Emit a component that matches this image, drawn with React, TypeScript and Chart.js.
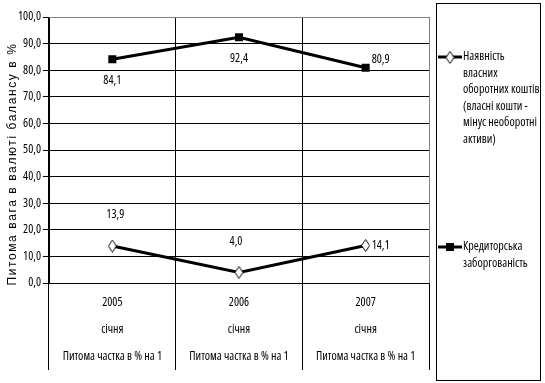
import React, { useEffect, useRef } from "react";
import { Chart, registerables } from "chart.js";

Chart.register(...registerables);

// ---------- data ----------
const categoryYears = ["2005", "2006", "2007"];
const categoryMonths = ["січня", "січня", "січня"];
const categoryPrefixes = ["Питома частка в % на 1", "Питома частка в % на 1", "Питома частка в % на 1"];

const ownCapitalValues = [13.9, 4.0, 14.1];
const payablesValues = [84.1, 92.4, 80.9];

const ownCapitalLegend = ["Наявність", "власних", "оборотних коштів", "(власні кошти -", "мінус необоротні", "активи)"];
const payablesLegend = ["Кредиторська", "заборгованість"];

const yAxisTitle = "Питома вага в валюті балансу в %";
const yMin = 0;
const yMax = 100;
const yStep = 10;

// ---------- styles ----------
const FAMILY = '"Open Sans", sans-serif';
const CANVAS_FONT = `condensed 12px ${FAMILY}`;
const fmt = (v: number) => v.toFixed(1).replace(".", ",");

function makeDiamond(): HTMLCanvasElement {
  const c = document.createElement("canvas");
  c.width = 9;
  c.height = 13;
  const g = c.getContext("2d")!;
  g.beginPath();
  g.moveTo(4.5, 0.5);
  g.lineTo(8.5, 6.5);
  g.lineTo(4.5, 12.5);
  g.lineTo(0.5, 6.5);
  g.closePath();
  g.fillStyle = "#fff";
  g.fill();
  g.lineWidth = 1;
  g.strokeStyle = "#000";
  g.stroke();
  return c;
}

// label placement per dataset, per point: [dx, dy, align]
const labelPlacement: Array<Array<[number, number, CanvasTextAlign]>> = [
  [[3, -31, "center"], [-3, -31, "center"], [6, 0, "left"]],
  [[0, 21, "center"], [0, 21, "center"], [6, -8, "left"]],
];

const valueLabelsPlugin = {
  id: "valueLabels",
  afterDatasetsDraw(chart: any) {
    const ctx = chart.ctx;
    ctx.save();
    ctx.font = CANVAS_FONT;
    ctx.fillStyle = "#000";
    ctx.textBaseline = "middle";
    chart.data.datasets.forEach((ds: any, di: number) => {
      const meta = chart.getDatasetMeta(di);
      meta.data.forEach((pt: any, i: number) => {
        const [dx, dy, align] = labelPlacement[di][i];
        ctx.textAlign = align;
        ctx.fillText(fmt(ds.data[i]), pt.x + dx, pt.y + dy);
      });
    });
    ctx.restore();
  },
};

const legendEntries = [ownCapitalLegend, payablesLegend];

const boxLegendPlugin = {
  id: "boxLegend",
  afterDraw(chart: any) {
    const ctx = chart.ctx;
    ctx.save();
    ctx.strokeStyle = "#000";
    ctx.lineWidth = 1;
    ctx.strokeRect(436.5, 3.5, 104, 377);
    const entryTops = [57, 247];
    ctx.font = CANVAS_FONT;
    ctx.fillStyle = "#000";
    ctx.textAlign = "left";
    ctx.textBaseline = "middle";
    chart.data.datasets.forEach((ds: any, di: number) => {
      const y = entryTops[di];
      ctx.beginPath();
      ctx.strokeStyle = "#000";
      ctx.lineWidth = 3;
      ctx.moveTo(438, y);
      ctx.lineTo(462, y);
      ctx.stroke();
      if (ds.pointStyle instanceof HTMLCanvasElement) {
        const img = ds.pointStyle;
        ctx.drawImage(img, 450 - img.width / 2, y - img.height / 2 + 0.5);
      } else {
        ctx.fillStyle = "#000";
        ctx.fillRect(446, y - 4, 8, 8);
      }
      ctx.fillStyle = "#000";
      legendEntries[di].forEach((line, li) => {
        ctx.fillText(line, 463, y + li * 16.5);
      });
    });
    ctx.restore();
  },
};

const yTitlePlugin = {
  id: "yTitle",
  afterDraw(chart: any) {
    const ctx = chart.ctx;
    ctx.save();
    ctx.translate(13, 164);
    ctx.rotate(-Math.PI / 2);
    ctx.font = `12px "Liberation Sans", Arial, sans-serif`;
    (ctx as any).letterSpacing = "1.6px";
    ctx.fillStyle = "#000";
    ctx.textAlign = "center";
    ctx.textBaseline = "middle";
    ctx.fillText(yAxisTitle, 0, 0);
    ctx.restore();
  },
};

const plotBorderPlugin = {
  id: "plotBorder",
  beforeDatasetsDraw(chart: any) {
    const { ctx, chartArea } = chart;
    ctx.save();
    ctx.strokeStyle = "#808080";
    ctx.lineWidth = 1;
    ctx.beginPath();
    ctx.moveTo(chartArea.left, chartArea.top + 0.5);
    ctx.lineTo(chartArea.right + 0.5, chartArea.top + 0.5);
    ctx.lineTo(chartArea.right + 0.5, chartArea.bottom);
    ctx.stroke();
    ctx.restore();
  },
};

export default function App() {
  const ref = useRef<HTMLCanvasElement | null>(null);

  useEffect(() => {
    if (!ref.current) return;
    const diamond = makeDiamond();
    const labels = categoryYears.map((y, i) => [y, categoryMonths[i], categoryPrefixes[i]]);
    const chart = new Chart(ref.current, {
      type: "line",
      data: {
        labels,
        datasets: [
          {
            label: ownCapitalLegend.join(" "),
            data: ownCapitalValues,
            borderColor: "#000",
            borderWidth: 3,
            pointStyle: diamond as any,
            pointRadius: 6,
            tension: 0,
          },
          {
            label: payablesLegend.join(" "),
            data: payablesValues,
            borderColor: "#000",
            borderWidth: 3,
            pointStyle: "rect",
            pointRadius: 5.7,
            pointBackgroundColor: "#000",
            pointBorderColor: "#000",
            pointBorderWidth: 0,
            tension: 0,
          },
        ],
      },
      options: {
        animation: false,
        responsive: false,
        devicePixelRatio: 1,
        layout: { padding: { top: 17, right: 116, left: 0, bottom: 0 } },
        plugins: {
          legend: { display: false },
          tooltip: { enabled: false },
        },
        scales: {
          x: {
            offset: true,
            grid: {
              offset: true,
              color: (c: any) => (c.index === categoryYears.length ? "#808080" : "#000"),
              lineWidth: 1,
              drawTicks: true,
              tickLength: 87,
              tickColor: "#000",
            },
            border: { display: true, color: "#000" },
            ticks: {
              color: "#000",
              padding: -81,
              maxRotation: 0,
              autoSkip: false,
              font: { family: FAMILY, size: 12, weight: "condensed" as any, lineHeight: 2.25 },
            },
            afterFit(scale: any) {
              scale.height = 100;
            },
          },
          y: {
            min: yMin,
            max: yMax,
            ticks: {
              stepSize: yStep,
              color: "#000",
              padding: 2,
              font: { family: FAMILY, size: 12, weight: "condensed" as any },
              callback: (v: any) => fmt(Number(v)),
            },
            grid: {
              color: (c: any) => (c.tick && c.tick.value === yMax ? "#808080" : "#000"),
              tickColor: "#000",
              tickLength: 6,
              lineWidth: 1,
            },
            border: { display: true, color: "#000" },
            afterFit(scale: any) {
              scale.width = 49;
            },
          },
        },
      },
      plugins: [plotBorderPlugin, valueLabelsPlugin, boxLegendPlugin, yTitlePlugin],
    });
    return () => chart.destroy();
  }, []);

  return (
    <div style={{ position: "fixed", left: 0, top: 0, width: 545, height: 383, background: "#fff" }}>
      <canvas ref={ref} width={545} height={383} style={{ display: "block" }} />
    </div>
  );
}
